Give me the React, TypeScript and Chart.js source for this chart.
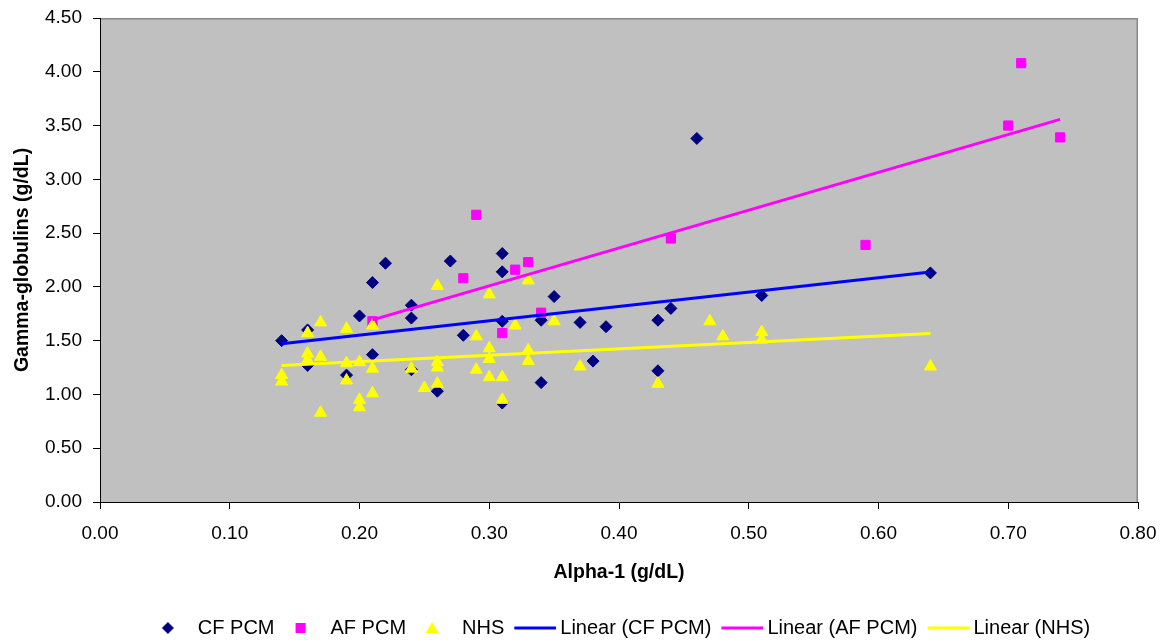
import React, { useEffect, useRef } from "react";
import { Chart, registerables } from "chart.js";

Chart.register(...registerables);

// ---- Data ----
const cfX = [0.14, 0.16, 0.16, 0.19, 0.20, 0.21, 0.21, 0.22, 0.24, 0.24, 0.24, 0.26, 0.27, 0.28, 0.31, 0.31, 0.31, 0.31, 0.34, 0.34, 0.35, 0.37, 0.38, 0.39, 0.43, 0.43, 0.44, 0.46, 0.51, 0.64];
const cfY = [1.50, 1.60, 1.27, 1.18, 1.73, 2.04, 1.37, 2.22, 1.83, 1.71, 1.23, 1.03, 2.24, 1.55, 2.31, 2.14, 1.68, 0.92, 1.69, 1.11, 1.91, 1.67, 1.31, 1.63, 1.69, 1.22, 1.80, 3.38, 1.92, 2.13];

const afX = [0.21, 0.28, 0.29, 0.31, 0.32, 0.33, 0.34, 0.44, 0.59, 0.70, 0.71, 0.74];
const afY = [1.68, 2.08, 2.67, 1.57, 2.16, 2.23, 1.76, 2.45, 2.39, 3.50, 4.08, 3.39];

const nhsX = [0.14, 0.14, 0.16, 0.16, 0.16, 0.17, 0.17, 0.17, 0.19, 0.19, 0.19, 0.20, 0.20, 0.20, 0.21, 0.21, 0.21, 0.24, 0.25, 0.26, 0.26, 0.26, 0.26, 0.29, 0.29, 0.30, 0.30, 0.30, 0.30, 0.31, 0.31, 0.32, 0.33, 0.33, 0.33, 0.35, 0.37, 0.43, 0.47, 0.48, 0.51, 0.51, 0.64];
const nhsY = [1.18, 1.12, 1.57, 1.38, 1.32, 1.67, 1.35, 0.83, 1.61, 1.29, 1.13, 1.30, 0.95, 0.88, 1.64, 1.24, 1.01, 1.24, 1.06, 2.01, 1.30, 1.25, 1.10, 1.54, 1.23, 1.93, 1.43, 1.33, 1.16, 1.16, 0.95, 1.64, 2.06, 1.41, 1.31, 1.68, 1.26, 1.10, 1.68, 1.54, 1.58, 1.51, 1.26];

const seriesNames = ["CF PCM", "AF PCM", "NHS"];
const trendNames = ["Linear (CF PCM)", "Linear (AF PCM)", "Linear (NHS)"];
const xAxisTitle = "Alpha-1 (g/dL)";
const yAxisTitle = "Gamma-globulins (g/dL)";

const markerColors = ["#000080", "#FF00FF", "#FFFF00"];
const trendColors = ["#0000FF", "#FF00FF", "#FFFF00"];

const FONT = "'Liberation Sans', Arial, sans-serif";

function toPoints(xs: number[], ys: number[]) {
  return xs.map((x, i) => ({ x, y: ys[i] }));
}

function linearFit(xs: number[], ys: number[]) {
  const n = xs.length;
  const mx = xs.reduce((a, b) => a + b, 0) / n;
  const my = ys.reduce((a, b) => a + b, 0) / n;
  let sxy = 0;
  let sxx = 0;
  for (let i = 0; i < n; i++) {
    sxy += (xs[i] - mx) * (ys[i] - my);
    sxx += (xs[i] - mx) * (xs[i] - mx);
  }
  const b = sxy / sxx;
  const a = my - b * mx;
  const lo = Math.min(...xs);
  const hi = Math.max(...xs);
  return [
    { x: lo, y: a + b * lo },
    { x: hi, y: a + b * hi },
  ];
}

function markerImage(kind: string, color: string) {
  const c = document.createElement("canvas");
  c.width = 16;
  c.height = 16;
  const ctx = c.getContext("2d")!;
  ctx.fillStyle = color;
  ctx.beginPath();
  const m = 8;
  if (kind === "diamond") {
    ctx.moveTo(m, m - 6);
    ctx.lineTo(m + 6, m);
    ctx.lineTo(m, m + 6);
    ctx.lineTo(m - 6, m);
    ctx.closePath();
  } else if (kind === "square") {
    ctx.rect(m - 5, m - 5, 10, 10);
  } else {
    ctx.moveTo(m, m - 6);
    ctx.lineTo(m + 6.5, m + 5);
    ctx.lineTo(m - 6.5, m + 5);
    ctx.closePath();
  }
  ctx.fill();
  return c;
}

function lineImage(color: string) {
  const c = document.createElement("canvas");
  c.width = 52;
  c.height = 6;
  const ctx = c.getContext("2d")!;
  ctx.fillStyle = color;
  ctx.fillRect(10, 1.5, 42, 3);
  return c;
}

const plotBackground = {
  id: "plotBackground",
  beforeDraw(chart: any) {
    const { ctx, chartArea } = chart;
    const { left, top, right, bottom } = chartArea;
    ctx.save();
    ctx.fillStyle = "#C0C0C0";
    ctx.fillRect(left, top, right - left, bottom - top);
    ctx.strokeStyle = "#888888";
    ctx.lineWidth = 1.5;
    ctx.beginPath();
    ctx.moveTo(left, top + 0.75);
    ctx.lineTo(right - 0.75, top + 0.75);
    ctx.lineTo(right - 0.75, bottom);
    ctx.stroke();
    ctx.restore();
  },
};

export default function App() {
  const ref = useRef<HTMLCanvasElement>(null);

  useEffect(() => {
    if (!ref.current) return;
    Chart.defaults.font.family = FONT;
    Chart.defaults.color = "#000";

    const legendImages = [
      markerImage("diamond", markerColors[0]),
      markerImage("square", markerColors[1]),
      markerImage("triangle", markerColors[2]),
      lineImage(trendColors[0]),
      lineImage(trendColors[1]),
      lineImage(trendColors[2]),
    ];

    const scatterCommon = {
      showLine: false,
      borderWidth: 1,
      pointBorderWidth: 1,
    };

    const datasets: any[] = [
      {
        ...scatterCommon,
        label: seriesNames[0],
        data: toPoints(cfX, cfY),
        pointStyle: "rectRot",
        pointRadius: 6,
        backgroundColor: markerColors[0],
        borderColor: markerColors[0],
        order: 4,
      },
      {
        ...scatterCommon,
        label: seriesNames[1],
        data: toPoints(afX, afY),
        pointStyle: "rect",
        pointRadius: 6.5,
        backgroundColor: markerColors[1],
        borderColor: markerColors[1],
        order: 3,
      },
      {
        ...scatterCommon,
        label: seriesNames[2],
        data: toPoints(nhsX, nhsY),
        pointStyle: "triangle",
        pointRadius: 7,
        backgroundColor: markerColors[2],
        borderColor: markerColors[2],
        order: 2,
      },
      {
        label: trendNames[0],
        data: linearFit(cfX, cfY),
        showLine: true,
        pointRadius: 0,
        borderWidth: 3,
        borderColor: trendColors[0],
        backgroundColor: trendColors[0],
        order: 1,
      },
      {
        label: trendNames[1],
        data: linearFit(afX, afY),
        showLine: true,
        pointRadius: 0,
        borderWidth: 3,
        borderColor: trendColors[1],
        backgroundColor: trendColors[1],
        order: 1,
      },
      {
        label: trendNames[2],
        data: linearFit(nhsX, nhsY),
        showLine: true,
        pointRadius: 0,
        borderWidth: 3,
        borderColor: trendColors[2],
        backgroundColor: trendColors[2],
        order: 1,
      },
    ];

    const tickFont = { family: FONT, size: 19 };
    const titleFont = { family: FONT, size: 19.5, weight: "bold" as const };

    const chart = new Chart(ref.current, {
      type: "scatter",
      data: { datasets },
      plugins: [plotBackground],
      options: {
        animation: false,
        responsive: true,
        maintainAspectRatio: false,
        layout: { padding: { left: 0, right: 22, top: 10, bottom: -4 } },
        plugins: {
          tooltip: { enabled: false },
          legend: {
            position: "bottom",
            fullSize: false,
            labels: {
              usePointStyle: true,
              pointStyleWidth: 40,
              padding: 6,
              color: "#000",
              font: { family: FONT, size: 20 },
              generateLabels: (ch: any) =>
                ch.data.datasets.map((ds: any, i: number) => ({
                  text: ds.label,
                  datasetIndex: i,
                  fillStyle: ds.backgroundColor,
                  strokeStyle: ds.borderColor,
                  lineWidth: 0,
                  pointStyle: legendImages[i],
                  hidden: false,
                  fontColor: "#000",
                })),
            },
          },
        },
        scales: {
          x: {
            type: "linear",
            min: 0,
            max: 0.8,
            afterFit: (scale: any) => {
              scale.height = 110;
              scale.paddingLeft = 0;
              scale.paddingRight = 0;
            },
            ticks: {
              stepSize: 0.1,
              padding: 13,
              font: tickFont,
              color: "#000",
              callback: (v: any) => Number(v).toFixed(2),
            },
            grid: {
              drawOnChartArea: false,
              drawTicks: true,
              tickLength: 7,
              color: "#000",
            },
            border: { color: "#000", width: 1 },
            title: {
              display: true,
              text: xAxisTitle,
              font: titleFont,
              color: "#000",
              padding: { top: 10, bottom: 28 },
            },
          },
          y: {
            type: "linear",
            min: 0,
            max: 4.5,
            afterFit: (scale: any) => {
              scale.width = 92;
              scale.paddingTop = 0;
              scale.paddingBottom = 0;
            },
            ticks: {
              stepSize: 0.5,
              padding: 11,
              font: tickFont,
              color: "#000",
              callback: (v: any) => Number(v).toFixed(2),
            },
            grid: {
              drawOnChartArea: false,
              drawTicks: true,
              tickLength: 7,
              color: "#000",
            },
            border: { color: "#000", width: 1 },
            title: {
              display: true,
              text: yAxisTitle,
              font: titleFont,
              color: "#000",
              padding: { top: 3, bottom: 6 },
            },
          },
        },
      },
    });

    return () => chart.destroy();
  }, []);

  return (
    <div style={{ position: "absolute", left: 8, top: 8, width: 1152, height: 636 }}>
      <canvas ref={ref} />
    </div>
  );
}
